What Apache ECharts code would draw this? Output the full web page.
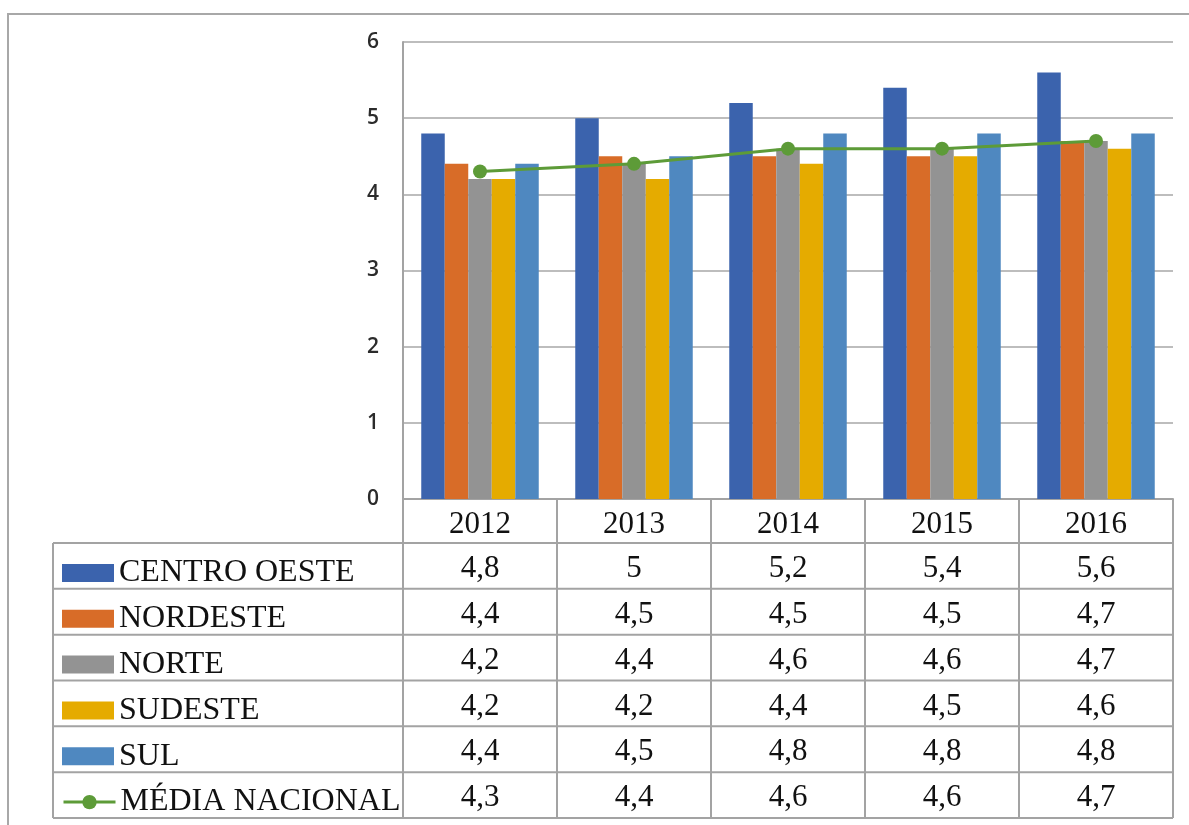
<!DOCTYPE html>
<html>
<head>
<meta charset="utf-8">
<script src="https://cdn.jsdelivr.net/npm/echarts@6/dist/echarts.min.js"></script>
<style>
  html, body { margin: 0; padding: 0; background: #fff; }
  #chart { width: 1189px; height: 825px; }
</style>
</head>
<body>
<div id="chart"></div>
<script>
const years = ['2012', '2013', '2014', '2015', '2016']
const regionNames = ['CENTRO OESTE', 'NORDESTE', 'NORTE', 'SUDESTE', 'SUL']
const centroOeste = [4.8, 5, 5.2, 5.4, 5.6]
const nordeste = [4.4, 4.5, 4.5, 4.5, 4.7]
const norte = [4.2, 4.4, 4.6, 4.6, 4.7]
const sudeste = [4.2, 4.2, 4.4, 4.5, 4.6]
const sul = [4.4, 4.5, 4.8, 4.8, 4.8]
const mediaNacional = [4.3, 4.4, 4.6, 4.6, 4.7]
const lineName = 'MÉDIA NACIONAL'
const yTicks = [0, 1, 2, 3, 4, 5, 6]

const barColors = ['#3b63ad', '#d86c28', '#939393', '#e5ab00', '#4f88c0']
const lineColor = '#5d9b38'
const regionValues = [centroOeste, nordeste, norte, sudeste, sul]

// layout of plot + data table (pixels)
const W = 1189, H = 825
const gridLeft = 403, gridRight = 1173, gridTop = 42, axisY = 499
const headerBottom = 543, tableBottom = 818, tableLeft = 53
const rowH = (tableBottom - headerBottom) / 6
const colW = (gridRight - gridLeft) / years.length
const serif = '"Liberation Serif", "DejaVu Serif", serif'
const tableLine = { stroke: '#a3a3a3', lineWidth: 2 }

const fmt = (v) => String(v).replace('.', ',')

const chart = echarts.init(document.getElementById('chart'))

const series = regionNames.map((name, i) => ({
  name,
  type: 'bar',
  data: regionValues[i],
  barWidth: 23.5,
  barGap: '0%',
  itemStyle: { color: barColors[i] },
  z: 2,
}))
series.push({
  name: lineName,
  type: 'line',
  data: mediaNacional,
  symbol: 'circle',
  symbolSize: 14,
  lineStyle: { color: lineColor, width: 3 },
  itemStyle: { color: lineColor },
  z: 5,
})

// one legend per table row, so each key sits in its own row
const legendNames = regionNames.concat([lineName])
const legends = legendNames.map((name, r) => ({
  orient: 'vertical',
  left: 62,
  top: headerBottom + r * rowH + (rowH - 18) / 2,
  padding: 0,
  itemWidth: 52,
  itemHeight: 18,
  selectedMode: false,
  lineStyle: { width: 3 },
  textStyle: { fontFamily: serif, fontSize: 32, color: '#111', padding: [6, 0, 0, 0] },
  data: [r < regionNames.length ? { name, icon: 'rect' } : { name }],
}))

chart.setOption({
  animation: false,
  backgroundColor: '#fff',
  grid: { left: gridLeft, right: W - gridRight, top: gridTop, bottom: H - axisY },
  legend: legends,
  xAxis: {
    type: 'category',
    data: years,
    axisLine: { show: true, lineStyle: { color: '#a3a3a3', width: 2 } },
    axisTick: { show: false },
    axisLabel: { color: '#111', fontFamily: serif, fontSize: 31, margin: 10, lineHeight: 31 },
  },
  yAxis: {
    type: 'value',
    min: yTicks[0],
    max: yTicks[yTicks.length - 1],
    interval: 1,
    axisLine: { show: true, lineStyle: { color: '#a3a3a3', width: 2 } },
    axisTick: { show: false },
    splitLine: { lineStyle: { color: '#bdbdbd', width: 2 } },
    axisLabel: {
      color: '#2b2b2b',
      fontFamily: '"Open Sans", "Liberation Sans", sans-serif',
      fontWeight: 600,
      fontSize: 21,
      margin: 24,
    },
  },
  series,
})

// data table: borders and values, placed from the category axis
const graphics = []
const line = (x1, y1, x2, y2) => ({
  type: 'line',
  silent: true,
  shape: { x1, y1, x2, y2 },
  style: tableLine,
  z: 10,
})

// outer frame
graphics.push({
  type: 'polyline',
  silent: true,
  shape: { points: [[8, H], [8, 14], [W, 14]] },
  style: { stroke: '#a8a8a8', lineWidth: 2, fill: null },
})

for (let r = 0; r <= 6; r++) {
  const y = headerBottom + r * rowH
  graphics.push(line(tableLeft, y, gridRight, y))
}
graphics.push(line(tableLeft, headerBottom, tableLeft, tableBottom))
for (let c = 0; c <= years.length; c++) {
  const x = gridLeft + c * colW
  graphics.push(line(x, axisY, x, tableBottom))
}

const rows = regionValues.concat([mediaNacional])
rows.forEach((vals, r) => {
  vals.forEach((v, c) => {
    const x = chart.convertToPixel({ xAxisIndex: 0 }, years[c])
    graphics.push({
      type: 'text',
      silent: true,
      x,
      y: headerBottom + (r + 0.5) * rowH + 3,
      style: {
        text: fmt(v),
        font: '31px ' + serif,
        fill: '#111',
        align: 'center',
        verticalAlign: 'middle',
      },
      z: 10,
    })
  })
})

chart.setOption({ graphic: graphics })

window.addEventListener('resize', () => chart.resize())
</script>
</body>
</html>
